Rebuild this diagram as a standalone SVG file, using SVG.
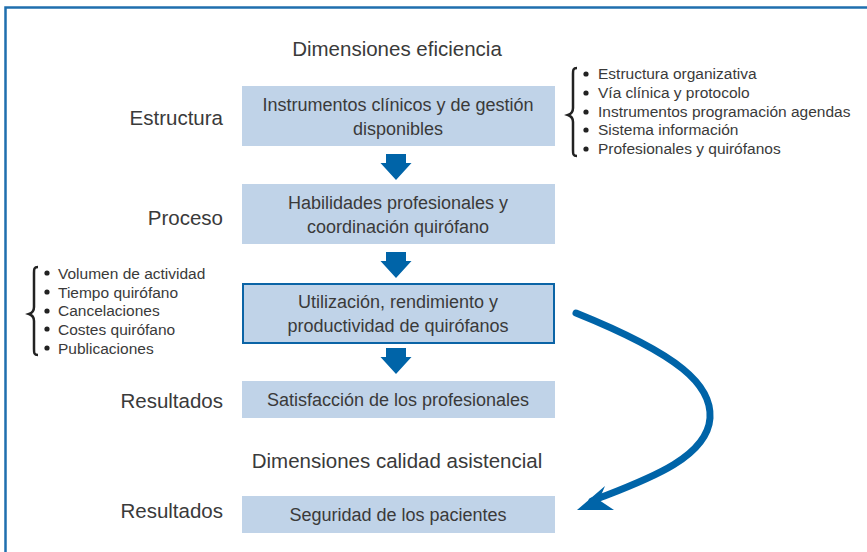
<svg xmlns="http://www.w3.org/2000/svg" width="867" height="552" viewBox="0 0 867 552">
<style>
text{font-family:"Liberation Sans",Arial,sans-serif;fill:#3a3a3a}
.t{font-size:20.5px;text-anchor:middle}
.b{font-size:18px;text-anchor:middle}
.l{font-size:20.5px;text-anchor:end}
.s{font-size:15.5px}
.box{fill:#c0d3e8}
.dn{fill:#0064a8}
.br{fill:none;stroke:#222;stroke-width:2.5}
</style>
<defs>
<path id="darr" d="M-10,0 H10 V9 H15.5 L0,26 L-15.5,9 H-10 Z"/>
<circle id="dot" r="2.6" fill="#222"/>
</defs>
<rect width="867" height="552" fill="#fff"/>
<path d="M5.5,552 V7.5 H867" fill="none" stroke="#1f6fae" stroke-width="2.5"/>
<text class="t" x="397" y="56">Dimensiones eficiencia</text>
<text class="t" x="397" y="468">Dimensiones calidad asistencial</text>
<text class="l" x="223" y="125">Estructura</text>
<text class="l" x="223" y="225">Proceso</text>
<text class="l" x="223" y="408">Resultados</text>
<text class="l" x="223" y="518">Resultados</text>
<g id="n1"><rect class="box" x="242" y="86" width="313" height="60"/>
<text class="b" x="398" y="111">Instrumentos clínicos y de gestión</text>
<text class="b" x="398" y="135">disponibles</text></g>
<g id="n2"><rect class="box" x="242" y="184" width="313" height="60"/>
<text class="b" x="398" y="209">Habilidades profesionales y</text>
<text class="b" x="398" y="233">coordinación quirófano</text></g>
<g id="n3"><rect class="box" x="243" y="284" width="311" height="59" stroke="#0b64a6" stroke-width="2"/>
<text class="b" x="398" y="308">Utilización, rendimiento y</text>
<text class="b" x="398" y="332">productividad de quirófanos</text></g>
<g id="n4"><rect class="box" x="242" y="381" width="313" height="37"/>
<text class="b" x="398" y="406">Satisfacción de los profesionales</text></g>
<g id="n5"><rect class="box" x="242" y="496" width="313" height="37"/>
<text class="b" x="398" y="521">Seguridad de los pacientes</text></g>
<g id="list1">
<path class="br" d="M577,68 C573,68 573,70 573,74 V108 C573,112 571,114 568,115 C571,116 573,118 573,122 V150 C573,154 573,156 577,156"/>
<use href="#dot" x="586" y="74"/><use href="#dot" x="586" y="93"/><use href="#dot" x="586" y="112"/><use href="#dot" x="586" y="130"/><use href="#dot" x="586" y="149"/>
<text class="s" x="598" y="79">Estructura organizativa</text>
<text class="s" x="598" y="98">Vía clínica y protocolo</text>
<text class="s" x="598" y="117">Instrumentos programación agendas</text>
<text class="s" x="598" y="135">Sistema información</text>
<text class="s" x="598" y="154">Profesionales y quirófanos</text>
</g>
<g id="list2">
<path class="br" d="M38,267 C34,267 34,269 34,273 V307 C34,311 32,313 29,314 C32,315 34,317 34,321 V349 C34,353 34,355 38,355"/>
<use href="#dot" x="47" y="273"/><use href="#dot" x="47" y="292"/><use href="#dot" x="47" y="311"/><use href="#dot" x="47" y="329"/><use href="#dot" x="47" y="348"/>
<text class="s" x="58" y="279">Volumen de actividad</text>
<text class="s" x="58" y="298">Tiempo quirófano</text>
<text class="s" x="58" y="316">Cancelaciones</text>
<text class="s" x="58" y="335">Costes quirófano</text>
<text class="s" x="58" y="354">Publicaciones</text>
</g>
<g id="connectors">
<use href="#darr" class="dn" x="396" y="154"/>
<use href="#darr" class="dn" x="396" y="252"/>
<use href="#darr" class="dn" x="396" y="348"/>
<path d="M576,313 C680,355 712,385 710,418 C707,460 640,482 592,501" fill="none" stroke="#0064a8" stroke-width="7" stroke-linecap="round"/>
<path d="M577,510 L605,486 L599,500 L614,510 Z" fill="#0064a8"/>
</g>
</svg>
